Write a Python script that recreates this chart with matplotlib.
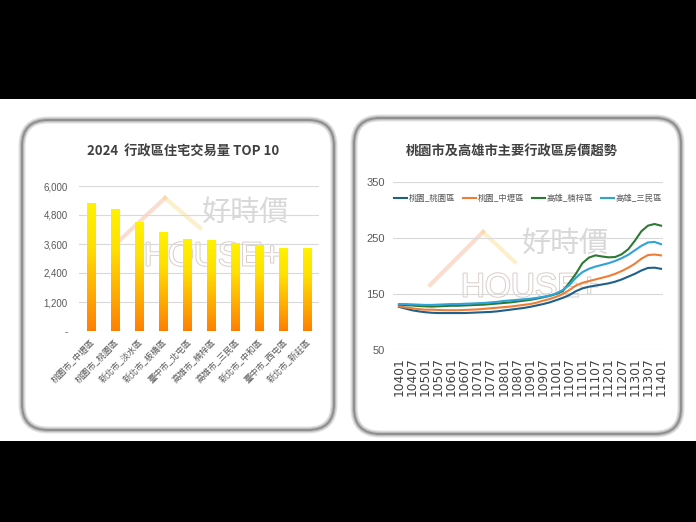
import matplotlib
matplotlib.use("Agg")
import matplotlib.pyplot as plt
import numpy as np
from matplotlib.patches import Rectangle, FancyBboxPatch
from matplotlib.transforms import IdentityTransform
from matplotlib.lines import Line2D
from matplotlib.colors import LinearSegmentedColormap
import matplotlib.patheffects as pe

plt.rcParams['font.family'] = ['Noto Sans CJK TC', 'DejaVu Sans']

# ---------------- data ----------------
bar_title = "2024  行政區住宅交易量 TOP 10"
districts = ["桃園市_中壢區", "桃園市_桃園區", "新北市_淡水區", "新北市_板橋區", "臺中市_北屯區",
             "高雄市_楠梓區", "高雄市_三民區", "新北市_中和區", "臺中市_西屯區", "新北市_新莊區"]
volumes = [5290, 5050, 4500, 4100, 3800, 3760, 3660, 3550, 3450, 3440]
bar_yticks = [0, 1200, 2400, 3600, 4800, 6000]
bar_yticklabels = ["-", "1,200", "2,400", "3,600", "4,800", "6,000"]

line_title = "桃園市及高雄市主要行政區房價趨勢"
series_names = ["桃園_桃園區", "桃園_中壢區", "高雄_楠梓區", "高雄_三民區"]
# quarterly index values, 104Q1 .. 114Q1 (41 points)
taoyuan = [127, 124, 121, 119, 117.5, 116.5, 116, 116, 116, 116, 116, 116.5, 117, 117.5, 118, 119,
           120.5, 122, 123.5, 125, 127, 129.5, 132, 135, 139, 143, 148, 155, 160, 163, 165, 167,
           169, 172, 176, 181, 186, 192, 196.5, 197, 195]
zhongli = [128, 126, 124.5, 123, 122, 122, 121.5, 121, 121, 121, 121.5, 122, 122.5, 123.5, 124.5, 125.5,
           126.5, 127.5, 129, 130.5, 132, 134.5, 138, 141, 145, 150, 157, 165, 170, 173, 176, 179,
           182, 186, 191, 197, 204, 213, 219.5, 220.5, 219]
nanzih = [131, 130, 129.5, 128.5, 128, 127.5, 128, 128.5, 129, 129, 129.5, 130, 130.5, 131, 132, 133,
          134, 135, 136.5, 138, 139.5, 141.5, 144, 147, 150, 155, 170, 186, 205, 215, 219, 217,
          215.5, 216, 221, 230, 245, 262, 272, 275, 272]
sanmin = [132, 132, 131.5, 131, 130.5, 130.5, 131, 131.5, 132, 132, 132.5, 133, 133.5, 134, 135, 136,
          137.5, 138.5, 139.5, 140.5, 141.5, 143, 145, 147, 151, 157, 166, 179, 189, 195, 199, 202,
          205, 209, 214, 220, 228, 236, 242, 243, 239]
period_ticklabels = ["10401", "10407", "10501", "10507", "10601", "10607", "10701", "10707", "10801",
                     "10807", "10901", "10907", "11001", "11007", "11101", "11107", "11201", "11207",
                     "11301", "11307", "11401"]
line_yticks = [50, 150, 250, 350]

# ---------------- figure ----------------
W, H = 696, 522
fig = plt.figure(figsize=(W / 100, H / 100), dpi=100)
fig.patch.set_facecolor("white")
ident = IdentityTransform()

# black bands
fig.patches.append(Rectangle((0, H - 99), W, 99, transform=ident, facecolor="black", edgecolor="none", zorder=0))
fig.patches.append(Rectangle((0, 0), W, H - 441, transform=ident, facecolor="black", edgecolor="none", zorder=0))

# rounded panels (image coords: x0, y_top, x1, y_bottom)
for (x0, yt, x1, yb) in [(22, 120, 334, 430), (354, 118, 681, 434)]:
    for lw, col in [(5, "#dedede"), (3, "#bdbdbd"), (1.4, "#8f8f8f")]:
        fig.patches.append(FancyBboxPatch((x0, H - yb), x1 - x0, yb - yt,
                                          boxstyle="round,pad=0,rounding_size=26",
                                          transform=ident, facecolor="white" if lw == 5 else "none",
                                          edgecolor=col, linewidth=lw, zorder=1))

# watermarks (decorative)
def roof(pts, color):
    xs = [p[0] for p in pts]
    ys = [H - p[1] for p in pts]
    fig.lines.append(Line2D(xs, ys, transform=ident, color=color, lw=3, alpha=0.35, zorder=2))

roof([(120, 240), (165, 198)], "#f4a07a")
roof([(165, 198), (200, 228)], "#f7d36a")
roof([(430, 285), (483, 232)], "#f4a07a")
roof([(483, 232), (515, 262)], "#f7d36a")
fig.text(246 / W, 1 - 213 / H, "好時價", fontsize=21, color="#c4c4c4", alpha=0.65,
         ha="center", va="center", zorder=2)
fig.text(566 / W, 1 - 244 / H, "好時價", fontsize=21, color="#c4c4c4", alpha=0.65,
         ha="center", va="center", zorder=2)
for (cx, cy) in [(213, 257), (530, 288)]:
    t = fig.text(cx / W, 1 - cy / H, "HOUSE+", fontsize=24, color="white", family="Liberation Sans",
                 ha="center", va="center", zorder=2)
    t.set_path_effects([pe.Stroke(linewidth=1.4, foreground="#d9cdc8"), pe.Normal()])

# ---------------- left: bar chart ----------------
axL = fig.add_axes([79 / W, 1 - 331 / H, 240 / W, 145 / H], zorder=3)
axL.patch.set_alpha(0)
x = np.arange(len(districts))
bars = axL.bar(x, volumes, width=0.36, color="none", zorder=3)
grad = np.linspace(0, 1, 256).reshape(-1, 1)
cmap = LinearSegmentedColormap.from_list("yo", ["#ff7f00", "#ffb000", "#ffe000", "#fff200"])
for b in bars:
    bx, by = b.get_x(), b.get_y()
    bw, bh = b.get_width(), b.get_height()
    im = axL.imshow(grad, extent=[bx, bx + bw, by, by + bh], origin="lower", cmap=cmap,
                    aspect="auto", zorder=3)
    im.set_clip_path(b)
axL.set_xlim(-0.5, len(districts) - 0.5)
axL.set_ylim(0, 6000)
axL.set_yticks(bar_yticks)
axL.set_yticklabels(bar_yticklabels, family="Liberation Sans", fontsize=7, color="#595959")
axL.yaxis.grid(True, color="#d9d9d9", lw=0.8, zorder=0)
axL.set_axisbelow(True)
axL.set_xticks(x)
axL.set_xticklabels(districts, rotation=45, ha="right", va="top", rotation_mode="anchor",
                    fontsize=6.3, color="#595959")
axL.tick_params(axis="both", length=0, pad=8)
axL.tick_params(axis="x", pad=5)
for s in axL.spines.values():
    s.set_visible(False)
fig.text(183 / W, 1 - 152 / H, bar_title, fontsize=9.5, fontweight="bold", color="#404040",
         ha="center", va="center", zorder=4)

# ---------------- right: line chart ----------------
axR = fig.add_axes([393 / W, 1 - 350 / H, 270 / W, 168 / H], zorder=3)
axR.patch.set_alpha(0)
q = np.arange(len(taoyuan))
colors = ["#1f5f8b", "#ef7d35", "#2b7a33", "#2fa2da"]
for vals, name, c in zip([taoyuan, zhongli, nanzih, sanmin], series_names, colors):
    axR.plot(q, vals, color=c, lw=1.5, label=name, zorder=3)
axR.set_xlim(-0.9, 40.3)
axR.set_ylim(50, 350)
axR.set_yticks(line_yticks)
axR.set_yticklabels([str(v) for v in line_yticks], family="Liberation Sans", fontsize=8, color="#595959")
axR.set_xticks(q[::2])
axR.set_xticklabels(period_ticklabels, rotation=90, family="DejaVu Sans", fontsize=8.8,
                    color="#404040", va="top")
axR.yaxis.grid(True, color="#d9d9d9", lw=0.8, zorder=0)
axR.set_axisbelow(True)
axR.tick_params(axis="both", length=0)
axR.tick_params(axis="y", pad=6)
axR.tick_params(axis="x", pad=5)
for s in axR.spines.values():
    s.set_visible(False)
leg = axR.legend(loc="upper center", bbox_to_anchor=(0.5, 0.95), ncol=4, frameon=False,
                 fontsize=6, handlelength=1.6, columnspacing=0.9, handletextpad=0.2, borderaxespad=0)
for t in leg.get_texts():
    t.set_color("#595959")
fig.text(512 / W, 1 - 152 / H, line_title, fontsize=9.5, fontweight="bold", color="#404040",
         ha="center", va="center", zorder=4)

fig.savefig("out.png", dpi=100, facecolor="white")
